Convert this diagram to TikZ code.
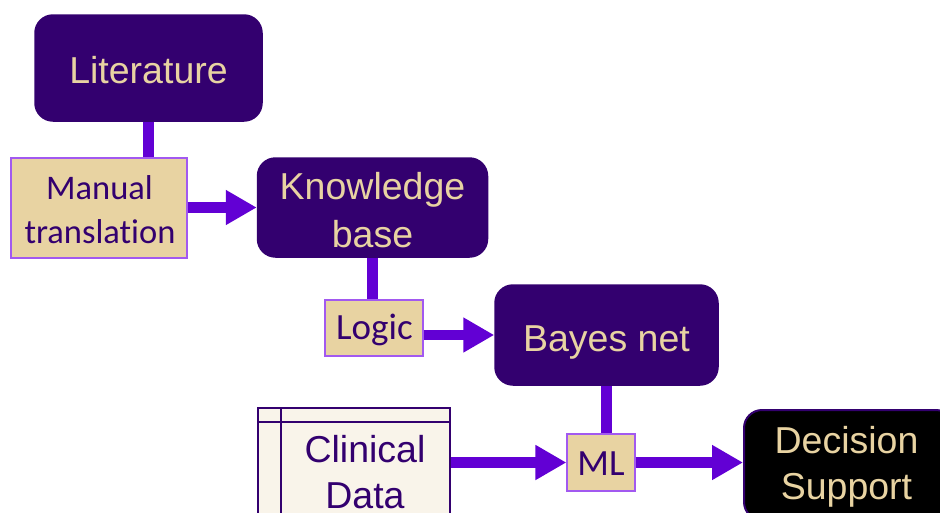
\documentclass[tikz,border=0pt]{standalone}
\usepackage{fontspec}
\setmainfont{Liberation Sans}
\newfontfamily\calib[Ligatures={NoCommon}]{Carlito}
\usetikzlibrary{arrows.meta}
\definecolor{uwp}{HTML}{33006F}
\definecolor{uwg}{HTML}{E8D3A2}
\definecolor{arr}{HTML}{6200D4}
\definecolor{tanedge}{HTML}{A259F0}
\definecolor{cream}{HTML}{F9F4EA}
\begin{document}
\begin{tikzpicture}[x=1pt,y=-1pt,
  darkbox/.style={draw=uwp, line width=1.5pt, fill=uwp, rounded corners=18pt, inner sep=0pt},
  tanbox/.style={draw=tanedge, line width=1.2pt, fill=uwg, inner sep=0pt},
  lighttext/.style={text=uwg, font=\fontsize{37.5}{45}\selectfont, anchor=base, inner sep=0pt},
  purpletext/.style={text=uwp, font=\fontsize{37.5}{45}\selectfont, anchor=base, inner sep=0pt},
  tantext/.style={text=uwp, font=\calib\fontsize{37}{44}\selectfont, anchor=base, inner sep=0pt},
  link/.style={draw=arr, line width=10.5pt},
  arrowlink/.style={link, -{Triangle[length=31pt,width=33pt]}}]
\clip (0,0) rectangle (940,512);
\fill[white] (0,0) rectangle (940,512);
% boxes
\node[darkbox, minimum width=227pt, minimum height=106pt] (lit) at (148.5,68) {};
\node[tanbox, minimum width=176pt, minimum height=100pt] (man) at (99,208) {};
\node[darkbox, minimum width=230pt, minimum height=99pt] (kb) at (372.5,207.5) {};
\node[tanbox, minimum width=98pt, minimum height=56pt] (logic) at (374,328) {};
\node[darkbox, minimum width=223pt, minimum height=100pt] (bn) at (606.5,335) {};
\node[tanbox, minimum width=68pt, minimum height=57pt] (ml) at (601,462.5) {};
\node[draw=uwp, line width=2.2pt, fill=cream, minimum width=192pt, minimum height=130pt,
  anchor=north west, inner sep=0pt] (cd) at (257,407) {};
\draw[uwp, line width=2pt] (281,407) -- (281,540);
\draw[uwp, line width=2pt] (257,421.5) -- (449,421.5);
\node[darkbox, fill=black, draw=uwp, line width=2pt, minimum width=210pt, minimum height=110pt,
  anchor=north west] (dec) at (743,409) {};
% texts
\node[lighttext] (litt) at (148.5,83.5) {Literature};
\node[tantext, font=\calib\fontsize{34.5}{44}\selectfont] (mant1) at (99.5,199) {Manual};
\node[tantext, font=\calib\fontsize{34.5}{44}\selectfont] (mant2) at (100,243) {translation};
\node[lighttext] (kbt1) at (372.5,199) {Knowledge};
\node[lighttext] (kbt2) at (372.5,247) {base};
\node[tantext] (logt) at (374.5,339) {Logic};
\node[lighttext] (bnt) at (606.5,351) {Bayes net};
\node[tantext] (mlt) at (601,475.5) {ML};
\node[purpletext] (cdt1) at (365,462) {Clinical};
\node[purpletext] (cdt2) at (365,508) {Data};
\node[lighttext] (dect1) at (846.5,453.5) {Decision};
\node[lighttext] (dect2) at (846.5,499) {Support};
% connectors
\draw[link] (lit.south) -- (lit.south |- man.north);
\draw[arrowlink] (man.east |- kb.west) -- (kb.west);
\draw[link] (kb.south) -- (kb.south |- logic.north);
\draw[arrowlink] (logic.east |- bn.west) -- (bn.west);
\draw[link] (bn.south) -- (bn.south |- ml.north);
\draw[arrowlink] (cd.east |- ml.west) -- (ml.west);
\draw[arrowlink] (ml.east) -- (ml.east -| dec.west);
\end{tikzpicture}
\end{document}
